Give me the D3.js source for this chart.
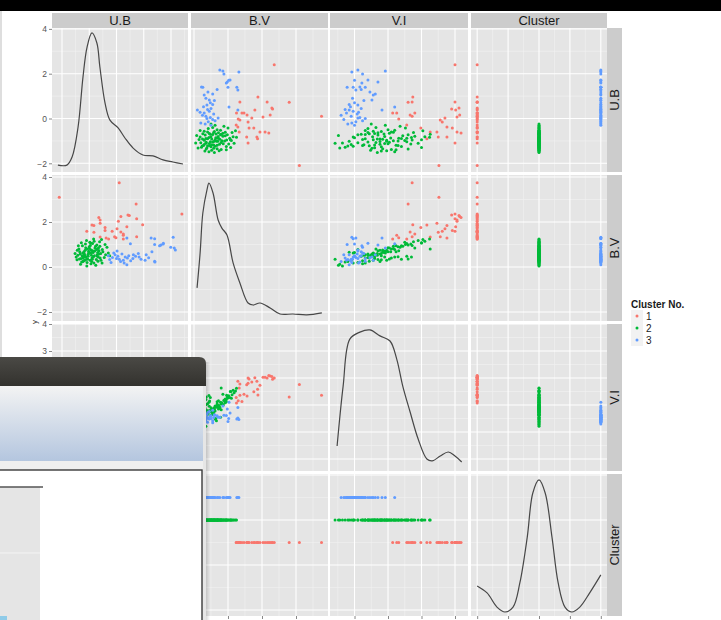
<!DOCTYPE html>
<html>
<head>
<meta charset="utf-8">
<script src="https://cdn.jsdelivr.net/npm/d3@7"></script>
<style>
  body { margin: 0; background: #fff; }
  text { font-family: "Liberation Sans", Arial, sans-serif; }
</style>
</head>
<body>
<script>
// variables shown in the matrix
const vars = ['U.B', 'B.V', 'V.I', 'Cluster'];
const clusterLabels = ['1', '2', '3'];
const clusterColors = ['#F8766D', '#00BA38', '#619CFF'];

// points per cluster: [U.B, B.V, V.I]
const cluster1 = [
  [-2.10, 3.10, 1.76], [0.10, 3.75, 1.36], [2.40, 2.36, 2.00], [0.72, 2.80, 1.30],
  [0.96, 1.88, 1.37], [0.74, 2.15, 2.00], [0.74, 1.35, 1.36], [0.38, 1.79, 2.01],
  [0.47, 2.29, 2.06], [0.25, 1.41, 1.13], [0.25, 1.47, 1.40], [0.16, 2.24, 2.07],
  [0.16, 1.56, 1.33], [0.07, 2.03, 2.03], [-0.07, 1.35, 1.78], [-0.16, 1.59, 1.81],
  [-0.29, 1.24, 1.28], [-0.38, 1.29, 1.88], [-0.42, 1.62, 1.96], [-0.42, 1.76, 1.49],
  [-0.60, 1.94, 1.73], [-0.60, 2.09, 2.03], [-0.83, 1.85, 1.88], [-1.09, 1.59, 2.00],
  [-0.60, 1.33, 1.63], [0.25, 1.25, 1.07], [-0.02, 1.30, 1.16], [0.02, 1.70, 1.85],
  [-0.65, 2.20, 2.09], [-0.83, 1.55, 1.75], [-0.90, 1.87, 1.58], [0.42, 2.31, 1.95]
];
const cluster2 = [
  [-1.12, 0.45, 0.95], [-0.95, 0.62, 0.78], [-1.30, 0.38, 0.80], [-0.80, 0.71, 0.95],
  [-1.05, 0.55, 0.70], [-1.21, 0.28, 0.62], [-0.66, 0.85, 1.02], [-0.90, 0.40, 0.66],
  [-1.42, 0.52, 0.74], [-0.74, 0.33, 0.85], [-1.00, 0.90, 1.15], [-1.15, 0.75, 0.88],
  [-0.58, 0.60, 0.90], [-1.35, 0.68, 0.92], [-0.88, 1.05, 1.28], [-1.08, 0.20, 0.55],
  [-0.70, 0.48, 0.60], [-1.25, 0.95, 1.20], [-0.97, 0.30, 0.98], [-0.52, 0.78, 1.10],
  [-1.18, 0.58, 0.80], [-0.83, 0.18, 0.48], [-1.48, 0.44, 1.10], [-0.62, 1.12, 1.38],
  [-1.02, 0.70, 0.98], [-0.77, 0.92, 1.22], [-1.28, 0.22, 0.36], [-0.92, 0.52, 0.84],
  [-0.45, 0.42, 0.70], [-1.10, 1.18, 1.45], [-0.86, 0.64, 0.50], [-1.38, 0.80, 1.05],
  [-0.68, 0.26, 0.72], [-1.20, 0.46, 1.15], [-0.40, 0.55, 0.82], [-0.99, 0.82, 1.08],
  [-1.32, 0.12, 0.28], [-0.72, 0.98, 1.30], [-1.06, 0.36, 1.02], [-0.55, 1.22, 1.52],
  [-0.94, 0.15, 0.62], [-1.24, 0.62, 0.48], [-0.81, 0.50, 0.77], [-1.45, 0.32, 0.90],
  [-0.64, 0.72, 0.85], [-1.14, 1.02, 1.34], [-0.89, 0.35, 1.20], [-0.35, 0.88, 1.18],
  [-1.26, 0.50, 0.90], [-0.76, 0.08, 0.26], [-1.01, 0.66, 0.42], [-0.60, 0.40, 1.05],
  [-1.40, 0.95, 1.12], [-0.84, 1.25, 1.62], [-1.16, 0.30, 0.45], [-0.50, 0.68, 1.00],
  [-0.93, 0.76, 0.92], [-1.33, 0.58, 0.76], [-0.71, 0.55, 0.66], [-1.09, 0.05, 0.32],
  [-0.30, 0.62, 0.96], [-0.98, 1.10, 1.25], [-1.22, 0.40, 0.72], [-0.79, 0.85, 1.40],
  [-1.52, 0.60, 0.84], [-0.57, 0.30, 0.78], [-1.04, 0.48, 1.28], [-0.87, 0.68, 1.04],
  [-1.29, 1.08, 1.50], [-0.67, 0.45, 0.80], [-1.13, 0.86, 1.00], [-0.42, 1.00, 1.26],
  [-0.91, 0.25, 0.88], [-1.36, 0.36, 1.30], [-0.73, 0.78, 0.55], [-1.19, 0.68, 1.12],
  [-0.61, 0.92, 1.08], [-1.03, 0.58, 0.88], [-0.85, 0.44, 1.35], [-1.44, 0.74, 0.98],
  [-0.53, 0.18, 0.66], [-0.96, 0.96, 1.36], [-1.23, 0.24, 0.40], [-0.69, 0.65, 0.94],
  [-1.07, 0.80, 0.82], [-0.82, 1.15, 1.55], [-0.25, 0.50, 0.75], [-1.17, 0.52, 0.64],
  [-0.88, 0.72, 1.16], [-0.63, 0.58, 0.70], [-0.95, 1.07, 1.50], [-0.70, 0.80, 1.63],
  [-1.10, 0.35, 0.21]
];
const cluster3 = [
  [2.16, 0.76, 0.55], [2.08, 1.32, 0.46], [2.12, 0.85, 0.96], [1.99, 0.88, 0.62],
  [1.72, 1.06, 0.70], [1.40, 1.00, 0.39], [1.40, 1.26, 0.48], [1.40, 0.26, 0.66],
  [1.30, 0.68, 0.60], [1.27, 1.29, 0.52], [1.18, 0.41, 0.73], [1.58, 0.95, 0.61],
  [1.09, 0.55, 0.81], [1.05, 0.30, 0.78], [0.83, 0.45, 0.76], [0.51, 1.03, 1.10],
  [0.38, 1.29, 0.91], [0.38, 0.10, 0.42], [1.63, 0.98, 0.85], [0.02, 0.71, 0.55],
  [1.41, 0.22, 0.58], [1.71, 1.02, 0.50],
  [0.10, 0.35, 0.45], [-0.15, 0.42, 0.52], [0.25, 0.30, 0.38], [0.45, 0.50, 0.60],
  [-0.05, 0.55, 0.34], [0.60, 0.38, 0.55], [0.32, 0.45, 0.48], [-0.25, 0.33, 0.40],
  [0.80, 0.60, 0.64], [0.15, 0.25, 0.30], [0.05, 0.48, 0.58], [0.52, 0.28, 0.44],
  [-0.10, 0.62, 0.62], [0.40, 0.40, 0.36], [0.70, 0.48, 0.50], [0.20, 0.58, 0.54],
  [-0.20, 0.20, 0.46], [0.00, 0.38, 0.66], [0.62, 0.55, 0.42], [0.28, 0.18, 0.56],
  [-0.30, 0.50, 0.50], [0.90, 0.35, 0.47]
];

// diagonal density curves: [value, height in row units]
const densUB = [[-2.15, -2.08], [-1.82, -2.08], [-1.63, -1.72], [-1.41, -0.38], [-1.23, 1.85],
  [-1.08, 3.19], [-0.90, 3.82], [-0.72, 3.37], [-0.61, 2.30], [-0.42, 0.69], [-0.24, -0.07],
  [0.06, -0.42], [0.31, -0.87], [0.61, -1.32], [0.97, -1.63], [1.34, -1.67], [1.71, -1.85],
  [2.07, -1.94], [2.44, -2.03]];
const densBV = [[0.09, -0.93], [0.18, 0.62], [0.26, 2.40], [0.38, 3.42], [0.44, 3.73],
  [0.56, 3.29], [0.71, 2.09], [0.82, 1.73], [0.97, 1.42], [1.15, 0.18], [1.35, -0.71],
  [1.59, -1.60], [1.74, -1.69], [1.94, -1.60], [2.24, -1.82], [2.53, -2.09], [2.91, -2.09],
  [3.32, -2.13], [3.76, -2.04]];
const densVI = [[0.24, -0.52], [0.33, 1.70], [0.43, 3.44], [0.58, 3.70], [0.73, 3.78],
  [0.88, 3.56], [1.03, 3.37], [1.13, 2.70], [1.22, 1.70], [1.33, 0.74], [1.45, -0.26],
  [1.58, -1.00], [1.66, -1.07], [1.78, -0.89], [1.90, -0.74], [2.00, -0.89], [2.10, -1.11]];
const densCl = [[1.00, -0.93], [1.16, -1.24], [1.32, -1.87], [1.45, -2.09], [1.58, -1.87],
  [1.69, -0.80], [1.81, 1.24], [1.90, 3.20], [2.00, 3.78], [2.10, 3.20], [2.21, 1.24],
  [2.31, -0.80], [2.42, -1.87], [2.53, -2.09], [2.66, -1.87], [2.82, -1.24], [3.00, -0.44]];
const densities = [densUB, densBV, densVI, densCl];

// tick values
const colTicks = [[-2, -1, 0, 1, 2], [0, 1, 2, 3], [0.5, 1, 1.5, 2], [1, 1.5, 2, 2.5, 3]];
const rowTicks = [[-2, 0, 2, 4], [-2, 0, 2, 4], [-1, 0, 1, 2, 3, 4], [-2, 0, 2, 4]];

// layout
const W = 721, H = 620;
const cols = [[52, 188], [191, 328], [330, 468], [471, 607]];
const rows = [[28, 172], [175, 321], [324, 471], [474, 616]];
const xDomains = [[-2.367, 2.624], [-0.088, 3.941], [0.134, 2.194], [0.9, 3.1]];
const yDomains = [[-2.388, 4.04], [-2.4, 4.089], [-1.444, 4.0], [-2.267, 4.044]];

const xs = cols.map((c, i) => d3.scaleLinear().domain(xDomains[i]).range(c));
const ys = rows.map((r, i) => d3.scaleLinear().domain(yDomains[i]).range([r[1], r[0]]));

const points = [];
[cluster1, cluster2, cluster3].forEach((cl, k) => {
  cl.forEach(p => points.push({v: [p[0], p[1], p[2], k + 1], k: k}));
});

function minors(ticks, dom) {
  const step = ticks.length > 1 ? ticks[1] - ticks[0] : 1;
  const out = [];
  for (let t = ticks[0] - step / 2; t <= dom[1]; t += step) {
    if (t >= dom[0]) out.push(t);
  }
  return out;
}

const svg = d3.select('body').append('svg')
  .attr('width', W).attr('height', H);

svg.append('rect').attr('width', W).attr('height', H).attr('fill', '#fff');
svg.append('rect').attr('x', 0).attr('y', 11).attr('width', 2).attr('height', H).attr('fill', '#dedede');

// screen bar at the top
svg.append('rect').attr('x', 0).attr('y', 0).attr('width', W).attr('height', 11).attr('fill', '#000');

// panels
for (let r = 0; r < 4; r++) {
  for (let c = 0; c < 4; c++) {
    const x = xs[c], y = ys[r];
    const g = svg.append('g');
    g.append('rect')
      .attr('x', cols[c][0]).attr('y', rows[r][0])
      .attr('width', cols[c][1] - cols[c][0]).attr('height', rows[r][1] - rows[r][0])
      .attr('fill', '#e5e5e5');
    // minor grid
    g.selectAll('.mx').data(minors(colTicks[c], xDomains[c])).enter().append('line')
      .attr('x1', d => x(d)).attr('x2', d => x(d))
      .attr('y1', rows[r][0]).attr('y2', rows[r][1])
      .attr('stroke', '#f2f2f2').attr('stroke-width', 0.6);
    g.selectAll('.my').data(minors(rowTicks[r], yDomains[r])).enter().append('line')
      .attr('y1', d => y(d)).attr('y2', d => y(d))
      .attr('x1', cols[c][0]).attr('x2', cols[c][1])
      .attr('stroke', '#f2f2f2').attr('stroke-width', 0.6);
    // major grid
    g.selectAll('.gx').data(colTicks[c]).enter().append('line')
      .attr('x1', d => x(d)).attr('x2', d => x(d))
      .attr('y1', rows[r][0]).attr('y2', rows[r][1])
      .attr('stroke', '#fff').attr('stroke-width', 1.1);
    g.selectAll('.gy').data(rowTicks[r].filter(t => t <= yDomains[r][1])).enter().append('line')
      .attr('y1', d => y(d)).attr('y2', d => y(d))
      .attr('x1', cols[c][0]).attr('x2', cols[c][1])
      .attr('stroke', '#fff').attr('stroke-width', 1.1);

    if (r === c) {
      const line = d3.line()
        .curve(d3.curveCatmullRom)
        .x(d => x(d[0]))
        .y(d => y(d[1]));
      g.append('path')
        .attr('d', line(densities[r]))
        .attr('fill', 'none')
        .attr('stroke', '#474747')
        .attr('stroke-width', 1.2);
    } else {
      g.selectAll('circle').data(points).enter().append('circle')
        .attr('cx', d => x(d.v[c]))
        .attr('cy', d => y(d.v[r]))
        .attr('r', 1.5)
        .attr('fill', d => clusterColors[d.k]);
    }
  }
}

// top strips
vars.forEach((v, i) => {
  svg.append('rect')
    .attr('x', cols[i][0]).attr('y', 13)
    .attr('width', cols[i][1] - cols[i][0]).attr('height', 15)
    .attr('fill', '#cccccc');
  svg.append('text')
    .attr('x', (cols[i][0] + cols[i][1]) / 2).attr('y', 25)
    .attr('text-anchor', 'middle')
    .attr('font-size', 13).attr('fill', '#1a1a1a')
    .text(v);
});

// right strips
vars.forEach((v, i) => {
  svg.append('rect')
    .attr('x', 607).attr('y', rows[i][0])
    .attr('width', 15).attr('height', rows[i][1] - rows[i][0])
    .attr('fill', '#cccccc');
  const cy = (rows[i][0] + rows[i][1]) / 2;
  svg.append('text')
    .attr('transform', 'translate(619,' + cy + ') rotate(-90)')
    .attr('text-anchor', 'middle')
    .attr('font-size', 13).attr('fill', '#1a1a1a')
    .text(v);
});

// left axes
rows.forEach((rw, i) => {
  const ax = svg.append('g')
    .attr('transform', 'translate(' + cols[0][0] + ',0)')
    .call(d3.axisLeft(ys[i]).tickValues(rowTicks[i]).tickSize(3).tickPadding(2).tickFormat(d3.format('d')));
  ax.select('.domain').remove();
  ax.selectAll('line').attr('stroke', '#888');
  ax.selectAll('text').attr('font-size', 8.5).attr('fill', '#555')
    .style('font-family', '"Liberation Sans", Arial, sans-serif');
});

// bottom axis ticks only: their labels sit below the picture
cols.forEach((cl, i) => {
  const ax = svg.append('g')
    .attr('transform', 'translate(0,' + rows[3][1] + ')')
    .call(d3.axisBottom(xs[i]).tickValues(colTicks[i]).tickSize(3).tickFormat(''));
  ax.select('.domain').remove();
  ax.selectAll('line').attr('stroke', '#888');
});

// y title
svg.append('text')
  .attr('transform', 'translate(37,322) rotate(-90)')
  .attr('text-anchor', 'middle')
  .attr('font-size', 8).attr('fill', '#333')
  .text('y');

// legend
const lg = svg.append('g').attr('transform', 'translate(631,0)');
lg.append('text').attr('x', 0).attr('y', 308)
  .attr('font-size', 10).attr('font-weight', 'bold').attr('fill', '#1a1a1a')
  .text('Cluster No.');
clusterLabels.forEach((lab, i) => {
  const cy = 316 + i * 12;
  lg.append('rect').attr('x', 0).attr('y', cy - 6).attr('width', 12).attr('height', 12)
    .attr('fill', '#f2f2f2');
  lg.append('circle').attr('cx', 6).attr('cy', cy).attr('r', 1.5).attr('fill', clusterColors[i]);
  lg.append('text').attr('x', 15).attr('y', cy + 4)
    .attr('font-size', 10).attr('fill', '#1a1a1a').text(lab);
});

// overlapping window in the lower left
const defs = svg.append('defs');
const gr = defs.append('linearGradient').attr('id', 'wgrad').attr('x1', 0).attr('y1', 0).attr('x2', 0).attr('y2', 1);
gr.append('stop').attr('offset', 0).attr('stop-color', '#f3f3f3');
gr.append('stop').attr('offset', 1).attr('stop-color', '#b4c6df');
const tb = defs.append('linearGradient').attr('id', 'tgrad').attr('x1', 0).attr('y1', 0).attr('x2', 0).attr('y2', 1);
tb.append('stop').attr('offset', 0).attr('stop-color', '#4a4945');
tb.append('stop').attr('offset', 1).attr('stop-color', '#33322e');
const sh = defs.append('linearGradient').attr('id', 'sgrad').attr('x1', 0).attr('y1', 0).attr('x2', 1).attr('y2', 0);
sh.append('stop').attr('offset', 0).attr('stop-color', '#000').attr('stop-opacity', 0.18);
sh.append('stop').attr('offset', 1).attr('stop-color', '#000').attr('stop-opacity', 0);

const win = svg.append('g');
win.append('rect').attr('x', 205).attr('y', 362).attr('width', 5).attr('height', 258).attr('fill', 'url(#sgrad)');
win.append('rect').attr('x', 0).attr('y', 385).attr('width', 206).attr('height', 235).attr('fill', '#e6e6e6');
win.append('path')
  .attr('d', 'M0,386 L0,357 L199,357 Q206,357 206,364 L206,386 Z')
  .attr('fill', 'url(#tgrad)');
win.append('rect').attr('x', 0).attr('y', 386).attr('width', 203).attr('height', 75).attr('fill', 'url(#wgrad)');
win.append('rect').attr('x', 0).attr('y', 461).attr('width', 203).attr('height', 9).attr('fill', '#efefef');
win.append('rect').attr('x', -2).attr('y', 470).attr('width', 204).attr('height', 155)
  .attr('fill', '#fff').attr('stroke', '#3a3a3a').attr('stroke-width', 1.4);
win.append('rect').attr('x', 0).attr('y', 487).attr('width', 40).attr('height', 133).attr('fill', '#e5e5e5');
win.append('line').attr('x1', 0).attr('x2', 40).attr('y1', 553).attr('y2', 553).attr('stroke', '#f4f4f4');
win.append('line').attr('x1', 0).attr('x2', 43).attr('y1', 487).attr('y2', 487).attr('stroke', '#555').attr('stroke-width', 1.3);
win.append('rect').attr('x', 0).attr('y', 616).attr('width', 7).attr('height', 4).attr('fill', '#8fcbe8');
</script>
</body>
</html>
